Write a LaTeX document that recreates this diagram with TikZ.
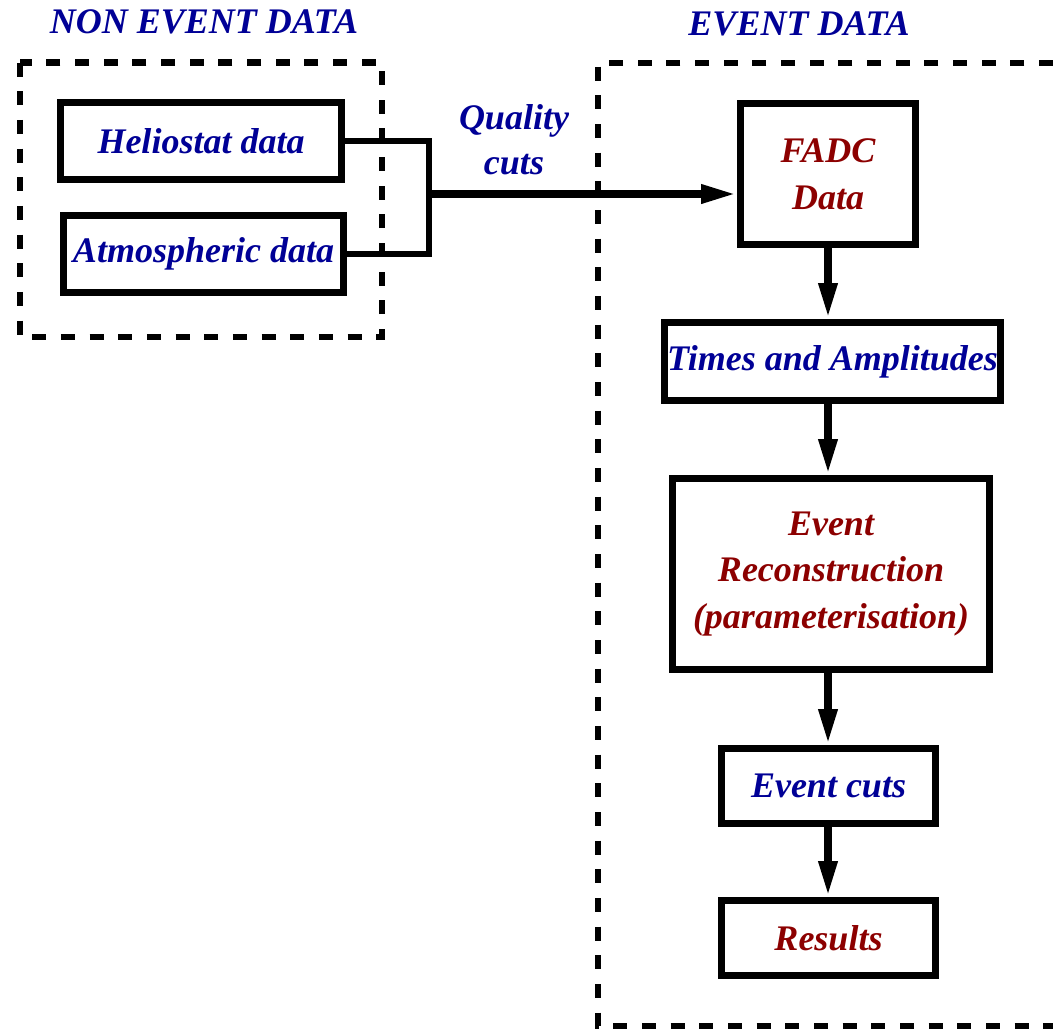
\documentclass[tikz,border=0pt]{standalone}
\usepackage{fontspec}
\setmainfont{Liberation Serif}
\usetikzlibrary{arrows.meta}

\definecolor{evblue}{RGB}{0,0,150}
\definecolor{evred}{RGB}{140,0,0}

\tikzset{every picture/.style={line width=0.75pt}}
\tikzset{
  labelfont/.style={font=\fontsize{27}{35}\selectfont\bfseries\itshape},
  databox/.style={draw, line width=5.2pt, inner sep=0pt, align=center, labelfont},
  dashbox/.style={line width=5pt, dash pattern=on 10.5pt off 11pt, line cap=butt},
  bracket/.style={line width=5pt},
  flow/.style={line width=6pt, -{Triangle[length=27pt,width=13pt]}},
}

\begin{document}
\begin{tikzpicture}[x=0.75pt,y=0.75pt,yscale=-1,xscale=1]
\useasboundingbox (0,0) rectangle (1053,1032);

%Shape: Dashed Rectangle [id:nonevent]
\draw [dashbox] (20,62.5) rectangle (382,337) ;
%Shape: Dashed Frame [id:event]
\draw [dashbox] (1053,63) -| (598,1026) -- (1053,1026) ;

% Text Node
\node (noneventtitle) [labelfont, text=evblue] at (204,22) {NON EVENT DATA};
% Text Node
\node (eventtitle) [labelfont, text=evblue] at (799,24) {EVENT DATA};

%Shape: Rectangle [id:helio]
\node (helio) [databox, text=evblue, minimum width=210.75pt, minimum height=57.75pt] at (201,141) {Heliostat data};
%Shape: Rectangle [id:atmos]
\node (atmos) [databox, text=evblue, minimum width=210pt, minimum height=57.75pt] at (203.5,254) {Atmospheric data};

%Shape: Rectangle [id:fadc]
\node (fadc) [databox, text=evred, minimum width=131.25pt, minimum height=105.75pt] at (828,174) {FADC\\Data};
%Shape: Rectangle [id:times]
\node (times) [databox, text=evblue, minimum width=252pt, minimum height=58.5pt] at (832.5,361.5) {Times and Amplitudes};
%Shape: Rectangle [id:recon]
\node (recon) [databox, text=evred, minimum width=237.75pt, minimum height=143.25pt] at (831,574) {Event\\Reconstruction\\(parameterisation)};
%Shape: Rectangle [id:cuts]
\node (cuts) [databox, text=evblue, minimum width=160.5pt, minimum height=56.25pt] at (828.5,786) {Event cuts};
%Shape: Rectangle [id:results]
\node (results) [databox, text=evred, minimum width=160.5pt, minimum height=56.25pt] at (828.5,938) {Results};

% Text Node
\node (quality) [labelfont, text=evblue, align=center, font=\fontsize{27}{34}\selectfont\bfseries\itshape] at (514,140) {Quality\\cuts};

%Straight Lines [id:bracket]
\coordinate (merge) at (429,194);
\draw [bracket] (helio.east) -| (merge) |- (atmos.east) ;
\draw [flow] (merge) -- (merge -| fadc.west) ;

%Straight Lines [id:chain]
\draw [flow] (fadc.south) -- (fadc.south |- times.north) ;
\draw [flow] (fadc.south |- times.south) -- (fadc.south |- recon.north) ;
\draw [flow] (fadc.south |- recon.south) -- (fadc.south |- cuts.north) ;
\draw [flow] (fadc.south |- cuts.south) -- (fadc.south |- results.north) ;

\end{tikzpicture}
\end{document}
